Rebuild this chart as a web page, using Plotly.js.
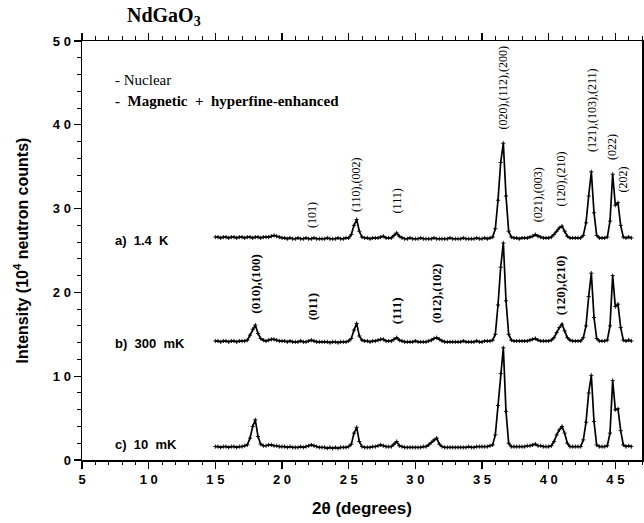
<!DOCTYPE html>
<html><head><meta charset="utf-8">
<script src="https://cdn.plot.ly/plotly-3.0.1.min.js"></script>
<style>html,body{margin:0;padding:0;background:#fff}</style>
</head><body><div id="chart" style="width:644px;height:523px"></div>
<script>
// 2-theta grid (degrees)
const twoTheta = [
15,15.2,15.4,15.6,15.8,16,16.2,16.4,16.6,16.8,
17,17.2,17.4,17.6,17.8,18,18.2,18.4,18.6,18.8,
19,19.2,19.4,19.6,19.8,20,20.2,20.4,20.6,20.8,
21,21.2,21.4,21.6,21.8,22,22.2,22.4,22.6,22.8,
23,23.2,23.4,23.6,23.8,24,24.2,24.4,24.6,24.8,
25,25.2,25.4,25.6,25.8,26,26.2,26.4,26.6,26.8,
27,27.2,27.4,27.6,27.8,28,28.2,28.4,28.6,28.8,
29,29.2,29.4,29.6,29.8,30,30.2,30.4,30.6,30.8,
31,31.2,31.4,31.6,31.8,32,32.2,32.4,32.6,32.8,
33,33.2,33.4,33.6,33.8,34,34.2,34.4,34.6,34.8,
35,35.2,35.4,35.6,35.8,36,36.2,36.4,36.6,36.8,
37,37.2,37.4,37.6,37.8,38,38.2,38.4,38.6,38.8,
39,39.2,39.4,39.6,39.8,40,40.2,40.4,40.6,40.8,
41,41.2,41.4,41.6,41.8,42,42.2,42.4,42.6,42.8,
43,43.2,43.4,43.6,43.8,44,44.2,44.4,44.6,44.8,
45,45.2,45.4,45.6,45.8,46,46.2];

// a) 1.4 K  (intensity, 10^4 counts, offset as plotted)
const int_1p4K = [
26.6,26.6,26.5,26.6,26.6,26.5,26.6,26.6,26.5,26.6,
26.6,26.5,26.6,26.6,26.5,26.6,26.6,26.5,26.6,26.6,
26.6,26.7,26.8,26.7,26.6,26.5,26.5,26.4,26.5,26.4,
26.4,26.5,26.4,26.4,26.5,26.4,26.4,26.5,26.4,26.4,
26.4,26.4,26.5,26.4,26.4,26.4,26.5,26.4,26.4,26.5,
26.5,26.9,28.0,28.7,27.3,26.6,26.5,26.5,26.4,26.5,
26.5,26.5,26.6,26.7,26.5,26.5,26.5,26.8,27.1,26.7,
26.5,26.4,26.4,26.5,26.4,26.4,26.4,26.5,26.4,26.4,
26.4,26.4,26.5,26.4,26.4,26.4,26.4,26.4,26.5,26.4,
26.4,26.4,26.4,26.5,26.4,26.4,26.4,26.4,26.5,26.4,
26.4,26.5,26.4,26.5,26.6,27.6,31.0,35.5,37.8,31.5,
27.3,26.6,26.5,26.5,26.4,26.5,26.5,26.5,26.6,26.7,
26.9,26.7,26.6,26.5,26.5,26.5,26.6,26.9,27.3,27.7,
27.9,27.3,26.7,26.5,26.5,26.5,26.5,26.5,26.8,28.3,
31.5,34.4,29.5,26.8,26.5,26.5,26.5,26.6,28.5,34.1,
30.4,30.7,28.0,26.6,26.5,26.6,26.5];

// b) 300 mK
const int_300mK = [
14.2,14.2,14.1,14.2,14.2,14.1,14.2,14.2,14.1,14.2,
14.2,14.2,14.3,14.9,15.6,16.1,15.1,14.5,14.3,14.2,
14.3,14.4,14.4,14.3,14.2,14.2,14.2,14.1,14.2,14.1,
14.1,14.1,14.2,14.1,14.1,14.2,14.3,14.2,14.1,14.1,
14.1,14.1,14.1,14.0,14.1,14.1,14.0,14.1,14.1,14.1,
14.2,14.5,15.5,16.3,14.8,14.3,14.2,14.2,14.1,14.2,
14.2,14.3,14.4,14.4,14.2,14.2,14.2,14.4,14.6,14.3,
14.2,14.1,14.1,14.1,14.1,14.2,14.1,14.1,14.1,14.1,
14.2,14.3,14.5,14.6,14.4,14.2,14.1,14.1,14.1,14.1,
14.1,14.1,14.1,14.2,14.1,14.1,14.1,14.1,14.2,14.1,
14.1,14.2,14.2,14.2,14.3,15.0,18.5,23.0,25.9,19.0,
15.0,14.3,14.2,14.2,14.2,14.2,14.2,14.2,14.3,14.4,
14.5,14.3,14.2,14.2,14.2,14.2,14.3,14.6,15.2,15.8,
16.2,15.4,14.6,14.3,14.2,14.2,14.2,14.2,14.6,16.0,
19.5,22.3,17.0,14.5,14.2,14.2,14.2,14.3,16.0,22.0,
18.3,18.6,15.8,14.3,14.2,14.3,14.2];

// c) 10 mK
const int_10mK = [
1.6,1.6,1.5,1.6,1.6,1.5,1.6,1.6,1.5,1.6,
1.6,1.7,1.8,2.6,4.0,4.8,2.8,1.9,1.7,1.7,
1.8,1.8,1.7,1.7,1.6,1.6,1.6,1.5,1.6,1.5,
1.5,1.5,1.6,1.5,1.6,1.7,1.8,1.7,1.6,1.5,
1.5,1.5,1.4,1.5,1.4,1.5,1.4,1.5,1.5,1.5,
1.6,1.9,3.2,3.9,2.2,1.6,1.5,1.5,1.5,1.6,
1.6,1.7,1.8,1.7,1.6,1.6,1.6,1.9,2.2,1.7,
1.6,1.5,1.5,1.5,1.5,1.5,1.5,1.5,1.6,1.6,
1.8,2.1,2.4,2.6,1.9,1.6,1.5,1.5,1.5,1.5,
1.5,1.5,1.5,1.5,1.5,1.6,1.5,1.5,1.6,1.6,
1.6,1.6,1.6,1.7,1.8,3.0,6.5,10.3,13.4,5.8,
2.0,1.6,1.6,1.6,1.6,1.6,1.6,1.7,1.7,1.8,
1.9,1.7,1.7,1.6,1.6,1.6,1.7,2.2,3.0,3.6,
4.0,3.2,2.0,1.6,1.6,1.6,1.6,1.6,2.4,4.5,
8.0,10.1,4.6,1.8,1.6,1.6,1.6,1.7,3.2,9.5,
6.0,6.1,3.5,1.8,1.6,1.7,1.6];

const seriesLabels = ["a)\u00a0 1.4\u00a0 K", "b)\u00a0 300\u00a0 mK", "c)\u00a0 10\u00a0 mK"];
const xTickVals = [5,10,15,20,25,30,35,40,45];
const xTickText = ["5","1 0","1 5","2 0","2 5","3 0","3 5","4 0","4 5"];
const yTickVals = [0,10,20,30,40,50];
const yTickText = ["0","1 0","2 0","3 0","4 0","5 0"];

// reflection labels
const nuclearLabels = ["(101)","(110),(002)","(111)","(020),(112),(200)","(021),(003)","(120),(210)","(121),(103),(211)","(022)","(202)"];
const nuclearPos = [22.3,25.6,28.65,36.55,39.2,40.95,43.2,44.8,45.6];
const magneticLabels = ["(010),(100)","(011)","(111)","(012),(102)","(120),(210)"];
const magneticPos = [17.95,22.3,28.65,31.55,40.95];

const series = [int_1p4K, int_300mK, int_10mK];
const traces = series.map(s => ({
  x: twoTheta, y: s, type: 'scatter', mode: 'lines+markers',
  line: {color: '#000', width: 1.7},
  marker: {symbol: 'cross-thin', size: 3, color: '#000', line: {color: '#000', width: 0.9}},
  hoverinfo: 'skip', showlegend: false
}));

const serif = '"Liberation Serif", "Times New Roman", serif';
const sans = '"Liberation Sans", Arial, sans-serif';
const ann = [];
const nucY = [29.2,32.9,30.9,44.4,31.6,33.5,41.8,37.3,33.5];
nuclearLabels.forEach((t,i) => ann.push({x: nuclearPos[i], y: nucY[i], xref:'x', yref:'y', text: t, showarrow:false, textangle:-90, font:{family: serif, size: 12, color:'#000'}}));
const magY = [21.0,18.3,17.8,19.9,20.9];
magneticLabels.forEach((t,i) => ann.push({x: magneticPos[i], y: magY[i], xref:'x', yref:'y', text: '<b>'+t+'</b>', showarrow:false, textangle:-90, font:{family: serif, size: 13, color:'#000'}}));
const labY = [26.25, 13.95, 1.8];
seriesLabels.forEach((t,i) => ann.push({x: 7.3, y: labY[i], xref:'x', yref:'y', xanchor:'left', text: '<b>'+t+'</b>', showarrow:false, font:{family: sans, size: 13, color:'#000'}}));
ann.push({x: 7.35, y: 45.3, xref:'x', yref:'y', xanchor:'left', text: '- Nuclear', showarrow:false, font:{family: serif, size: 15, color:'#000'}});
ann.push({x: 7.35, y: 42.9, xref:'x', yref:'y', xanchor:'left', text: '<b>-\u00a0 Magnetic\u00a0 +\u00a0 hyperfine-enhanced</b>', showarrow:false, font:{family: serif, size: 15, color:'#000'}});

const axisCommon = {
  showline: true, linecolor: '#000', linewidth: 1.5, mirror: 'ticks',
  ticks: 'outside', ticklen: 7, tickwidth: 1.2, tickcolor: '#000',
  showgrid: false, zeroline: false,
  tickfont: {family: sans, size: 13, color: '#000', weight: 'bold'}
};
const layout = {
  width: 644, height: 523,
  margin: {l: 82, r: 2, t: 41, b: 63},
  paper_bgcolor: '#fff', plot_bgcolor: '#fff',
  title: {text: '<b>NdGaO<sub>3</sub></b>', x: 127/644, xanchor: 'left', xref: 'container', y: 1-15/523, yanchor: 'middle', font: {family: serif, size: 20, color: '#000'}},
  xaxis: Object.assign({}, axisCommon, {
    range: [5, 47], tickmode: 'array', tickvals: xTickVals, ticktext: xTickText,
    minor: {dtick: 1, tick0: 5, ticks: 'outside', ticklen: 3.5, tickwidth: 1, tickcolor: '#000', showgrid: false},
    title: {text: '<b>2θ (degrees)</b>', font: {family: sans, size: 17, color: '#000'}, standoff: 16}
  }),
  yaxis: Object.assign({}, axisCommon, {
    range: [0, 50], tickmode: 'array', tickvals: yTickVals, ticktext: yTickText,
    minor: {dtick: 2, tick0: 0, ticks: 'outside', ticklen: 3.5, tickwidth: 1, tickcolor: '#000', showgrid: false},
    title: {text: '<b>Intensity (10<sup>4</sup> neutron counts)</b>', font: {family: sans, size: 16, color: '#000'}, standoff: 20}
  }),
  annotations: ann
};
Plotly.newPlot('chart', traces, layout, {displayModeBar: false, staticPlot: true});
</script></body></html>
